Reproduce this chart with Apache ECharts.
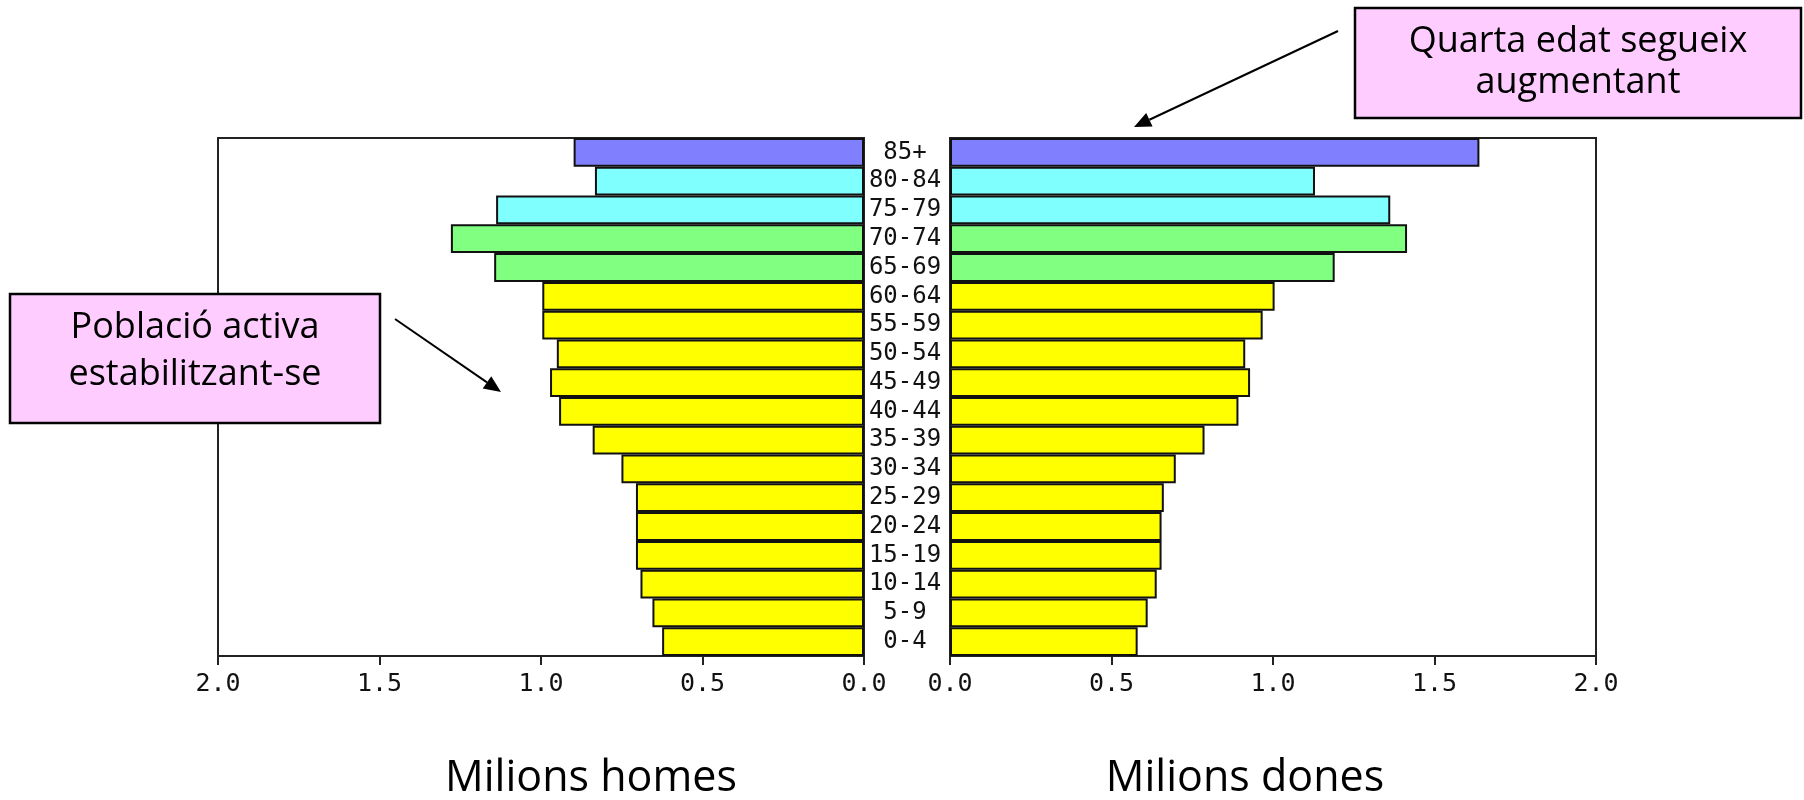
<!DOCTYPE html>
<html>
<head>
<meta charset="utf-8">
<script src="https://cdn.jsdelivr.net/npm/echarts@6/dist/echarts.min.js"></script>
<style>
html,body{margin:0;padding:0;background:#fff;}
#chart{width:1804px;height:800px;}
</style>
</head>
<body>
<div id="chart"></div>
<script>
// Age groups, bottom to top
const ageGroups = ['0-4','5-9','10-14','15-19','20-24','25-29','30-34','35-39','40-44','45-49','50-54','55-59','60-64','65-69','70-74','75-79','80-84','85+'];
// Millions of men (left pyramid)
const homes = [0.625,0.655,0.692,0.706,0.706,0.706,0.751,0.840,0.944,0.972,0.951,0.996,0.996,1.145,1.279,1.139,0.833,0.899];
// Millions of women (right pyramid)
const dones = [0.581,0.612,0.640,0.655,0.655,0.662,0.699,0.788,0.893,0.929,0.914,0.968,1.005,1.191,1.415,1.363,1.130,1.639];
// Axis ticks
const axisMin = 0, axisMax = 2.0, axisStep = 0.5;
const xTitles = ['Milions homes', 'Milions dones'];
const notes = [['Població activa', 'estabilitzant-se'], ['Quarta edat segueix', 'augmentant']];

function groupColor(label) {
  if (label === '85+') return '#8080FF';
  if (label === '80-84' || label === '75-79') return '#80FFFF';
  if (label === '70-74' || label === '65-69') return '#80FF80';
  return '#FFFF00';
}
function barData(vals) {
  return vals.map((v, i) => ({ value: v, itemStyle: { color: groupColor(ageGroups[i]) } }));
}

const monoFont = 'DejaVu Sans Mono';
const chart = echarts.init(document.getElementById('chart'), null, { renderer: 'canvas' });

const gridCommon = { top: 138, height: 518, width: 646, show: true, borderColor: '#222', borderWidth: 2, backgroundColor: '#fff' };

function xAxisCfg(gridIndex, inverse) {
  return {
    type: 'value', gridIndex, min: axisMin, max: axisMax, interval: axisStep, inverse,
    axisLine: { show: true, lineStyle: { color: '#222', width: 2 } },
    axisTick: { show: true, inside: false, length: 9, lineStyle: { color: '#222', width: 2 } },
    splitLine: { show: false },
    axisLabel: { margin: 16, color: '#111', fontFamily: monoFont, fontSize: 25, formatter: v => v.toFixed(1) }
  };
}

function arrow(x1, y1, x2, y2) {
  const dx = x2 - x1, dy = y2 - y1, len = Math.hypot(dx, dy);
  const ux = dx / len, uy = dy / len;
  const hl = 17, hw = 7.5;
  const bx = x2 - ux * hl, by = y2 - uy * hl;
  return [
    { type: 'line', shape: { x1, y1, x2: bx, y2: by }, style: { stroke: '#000', lineWidth: 2 }, z: 10 },
    { type: 'polygon', shape: { points: [[x2, y2], [bx - uy * hw, by + ux * hw], [bx + uy * hw, by - ux * hw]] }, style: { fill: '#000' }, z: 10 }
  ];
}

function noteBox(x, y, w, h, lines, lineYs) {
  const els = [{ type: 'rect', shape: { x, y, width: w, height: h }, style: { fill: '#FFCCFF', stroke: '#000', lineWidth: 2.5 }, z: 20 }];
  lines.forEach((t, i) => {
    els.push({ type: 'text', x: x + w / 2, y: lineYs[i], z: 21,
      style: { text: t, fill: '#000', fontSize: 36, fontFamily: 'Open Sans', align: 'center', verticalAlign: 'middle' } });
  });
  return els;
}

const option = {
  backgroundColor: '#fff',
  animation: false,
  grid: [
    Object.assign({ left: 218 }, gridCommon),
    Object.assign({ left: 950 }, gridCommon)
  ],
  xAxis: [xAxisCfg(0, true), xAxisCfg(1, false)],
  yAxis: [
    { type: 'category', gridIndex: 0, data: ageGroups, axisLine: { show: false }, axisTick: { show: false }, axisLabel: { show: false } },
    { type: 'category', gridIndex: 1, data: ageGroups, position: 'left', axisLine: { show: false }, axisTick: { show: false },
      axisLabel: { show: true, interval: 0, align: 'center', margin: 45, color: '#111', fontFamily: monoFont, fontSize: 24 } }
  ],
  series: [
    { type: 'bar', xAxisIndex: 0, yAxisIndex: 0, data: barData(homes), barCategoryGap: '0%',
      itemStyle: { borderColor: '#111', borderWidth: 2 } },
    { type: 'bar', xAxisIndex: 1, yAxisIndex: 1, data: barData(dones), barCategoryGap: '0%',
      itemStyle: { borderColor: '#111', borderWidth: 2 } }
  ],
  graphic: [
    { type: 'text', x: 591, y: 779, style: { text: xTitles[0], fill: '#000', fontSize: 43, fontFamily: 'Open Sans', align: 'center', verticalAlign: 'middle' } },
    { type: 'text', x: 1245, y: 779, style: { text: xTitles[1], fill: '#000', fontSize: 43, fontFamily: 'Open Sans', align: 'center', verticalAlign: 'middle' } },
    ...noteBox(10, 294, 370, 129, notes[0], [328, 375]),
    ...noteBox(1355, 8, 446, 110, notes[1], [42, 83]),
    ...arrow(395, 319, 501, 392),
    ...arrow(1338, 31, 1134, 127)
  ]
};
chart.setOption(option);
</script>
</body>
</html>
